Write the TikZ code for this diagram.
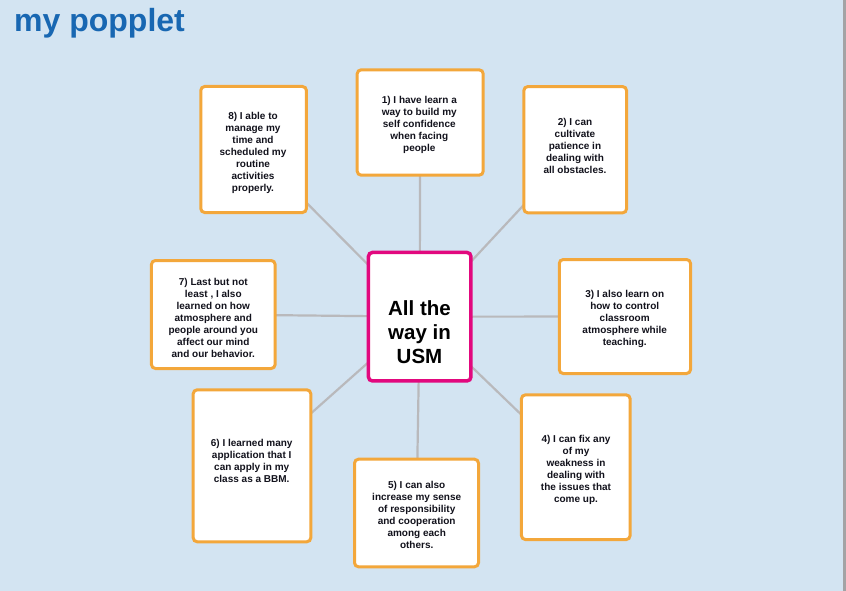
\documentclass[tikz,border=0pt]{standalone}
\usepackage{fontspec}
\setmainfont{Liberation Sans}
\definecolor{bgblue}{RGB}{211,228,242}
\definecolor{titleblue}{RGB}{24,103,178}
\definecolor{boxorange}{RGB}{243,167,59}
\definecolor{hubpink}{RGB}{226,8,126}
\definecolor{linkgray}{RGB}{185,185,188}
\definecolor{stripgray}{RGB}{163,163,165}
\definecolor{inktext}{RGB}{18,18,28}
\pgfdeclarelayer{bg}
\pgfdeclarelayer{edges}
\pgfsetlayers{bg,edges,main}
\tikzset{
  card/.style={draw=boxorange, line width=3pt, fill=white, rounded corners=4pt, inner sep=0pt},
  hub/.style={draw=hubpink, line width=3.5pt, fill=white, rounded corners=4pt, inner sep=0pt},
  cardtext/.style={align=center, inner sep=0pt, text=inktext, font=\fontsize{10}{12}\selectfont\bfseries},
  hubtext/.style={align=center, inner sep=0pt, text=black, font=\fontsize{20.5}{24}\selectfont\bfseries},
  link/.style={draw=linkgray, line width=2.2pt}
}
\begin{document}
\begin{tikzpicture}[x=1pt, y=-1pt]
\useasboundingbox (0,0) rectangle (846,591);
\begin{pgfonlayer}{bg}
  \fill[bgblue] (0,0) rectangle (846,591);
  \fill[stripgray] (843,0) rectangle (846,591);
\end{pgfonlayer}
\node[anchor=base west, inner sep=0pt, text=titleblue, font=\fontsize{32}{36}\selectfont\bfseries] (title) at (14,31.5) {my popplet};

\node[hub, minimum width=102.5pt, minimum height=128.5pt] (c) at (419.7,316.7) {};
\node[hubtext] (ct) at (419.5,332) {All the\\way in\\USM};

\node[card, minimum width=126pt, minimum height=105.4pt] (b1) at (420.2,122.5) {};
\node[cardtext] (t1) at (419.3,124.7) {1) I have learn a\\way to build my\\self confidence\\when facing\\people};

\node[card, minimum width=102.7pt, minimum height=126.3pt] (b2) at (575.2,149.7) {};
\node[cardtext] (t2) at (575,146.3) {2) I can\\cultivate\\patience in\\dealing with\\all obstacles.};

\node[card, minimum width=131.3pt, minimum height=114pt] (b3) at (624.9,316.5) {};
\node[cardtext] (t3) at (624.7,318.5) {3) I also learn on\\how to control\\classroom\\atmosphere while\\teaching.};

\node[card, minimum width=108.7pt, minimum height=144.7pt] (b4) at (575.8,467.2) {};
\node[cardtext] (t4) at (576,469.7) {4) I can fix any\\of my\\weakness in\\dealing with\\the issues that\\come up.};

\node[card, minimum width=124pt, minimum height=107.6pt] (b5) at (416.5,513) {};
\node[cardtext] (t5) at (416.7,515.3) {5) I can also\\increase my sense\\of responsibility\\and cooperation\\among each\\others.};

\node[card, minimum width=117.6pt, minimum height=152pt] (b6) at (252,465.8) {};
\node[cardtext] (t6) at (251.7,461.3) {6) I learned many\\application that I\\can apply in my\\class as a BBM.};

\node[card, minimum width=123.7pt, minimum height=108pt] (b7) at (213.3,314.5) {};
\node[cardtext] (t7) at (213.3,317.5) {7) Last but not\\least , I also\\learned on how\\atmosphere and\\people around you\\affect our mind\\and our behavior.};

\node[card, minimum width=105.7pt, minimum height=126pt] (b8) at (253.6,149.5) {};
\node[cardtext] (t8) at (253,152.7) {8) I able to\\manage my\\time and\\scheduled my\\routine\\activities\\properly.};

\begin{pgfonlayer}{edges}
  \foreach \k in {1,...,8} {\path[link] (c.center) -- (b\k.center);}
\end{pgfonlayer}
\end{tikzpicture}
\end{document}
